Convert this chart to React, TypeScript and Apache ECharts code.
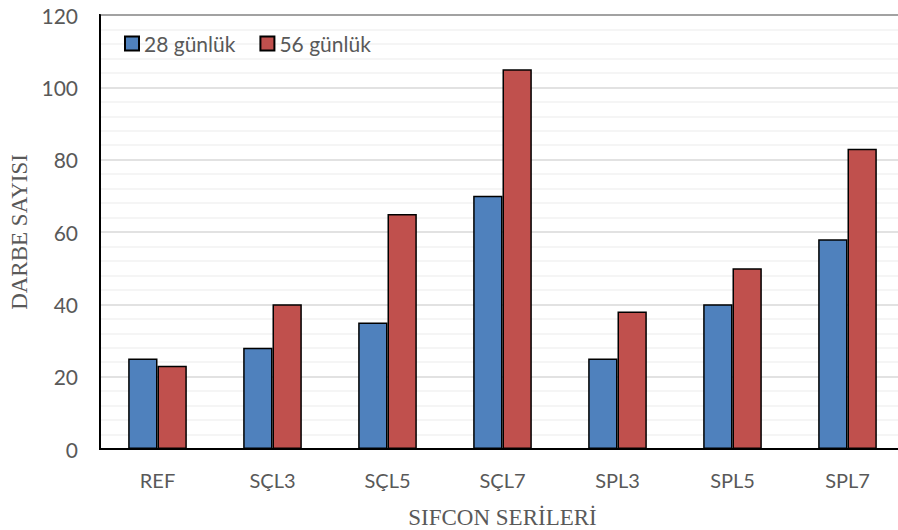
import React, { useEffect, useRef } from "react";
import * as echarts from "echarts";

const categories = ["REF", "SÇL3", "SÇL5", "SÇL7", "SPL3", "SPL5", "SPL7"];
const series28 = [25, 28, 35, 70, 25, 40, 58];
const series56 = [23, 40, 65, 105, 38, 50, 83];
const seriesNames = ["28 günlük", "56 günlük"];
const yMin = 0;
const yMax = 120;
const yInterval = 20;

export default function App() {
  const ref = useRef<HTMLDivElement>(null);
  useEffect(() => {
    if (!ref.current) return;
    const chart = echarts.init(ref.current, undefined, { renderer: "svg" });
    const labelFont = "Lato, 'Open Sans', sans-serif";
    const serif = "'Liberation Serif', 'Times New Roman', serif";
    chart.setOption({
      animation: false,
      backgroundColor: "#ffffff",
      grid: {
        left: 100,
        top: 15,
        width: 805,
        height: 434,
        show: true,
        borderColor: "#000000",
        borderWidth: 2,
        backgroundColor: "transparent",
        outerBoundsMode: "none",
        containLabel: false,
      },
      legend: {
        left: 119,
        top: 28,
        itemWidth: 14,
        itemHeight: 14,
        itemGap: 24,
        icon: "rect",
        textStyle: { color: "#595959", fontSize: 21, fontFamily: labelFont, padding: [0, 0, 0, 0] },
        data: seriesNames,
      },
      xAxis: {
        type: "category",
        data: categories,
        axisLine: { show: true, lineStyle: { color: "#000000", width: 2 } },
        axisTick: { show: false },
        axisLabel: { color: "#595959", fontSize: 20, fontFamily: labelFont, margin: 21 },
        name: "SIFCON SERİLERİ",
        nameLocation: "middle",
        nameGap: 57,
        nameTextStyle: { color: "#595959", fontSize: 23, fontFamily: serif },
      },
      yAxis: {
        type: "value",
        min: yMin,
        max: yMax,
        interval: yInterval,
        axisLine: { show: true, lineStyle: { color: "#000000", width: 2 } },
        axisTick: { show: false },
        axisLabel: { color: "#595959", fontSize: 21, fontFamily: labelFont, margin: 22 },
        splitLine: { show: true, lineStyle: { color: "#D9D9D9", width: 1.5 } },
        minorTick: { show: false, splitNumber: 5 },
        minorSplitLine: { show: true, lineStyle: { color: "#F2F2F2", width: 1.5 } },
        name: "DARBE SAYISI",
        nameLocation: "middle",
        nameGap: 67,
        nameTextStyle: { color: "#595959", fontSize: 23, fontFamily: serif },
      },
      series: [
        {
          name: seriesNames[0],
          type: "bar",
          data: series28,
          barGap: "0%",
          barCategoryGap: "49%",
          itemStyle: { color: "#4F81BD", borderColor: "#000000", borderWidth: 1.5 },
        },
        {
          name: seriesNames[1],
          type: "bar",
          data: series56,
          itemStyle: { color: "#C0504D", borderColor: "#000000", borderWidth: 1.5 },
        },
      ],
    });
    return () => chart.dispose();
  }, []);
  return <div ref={ref} style={{ width: 898, height: 530, position: "absolute", left: 0, top: 0 }} />;
}
